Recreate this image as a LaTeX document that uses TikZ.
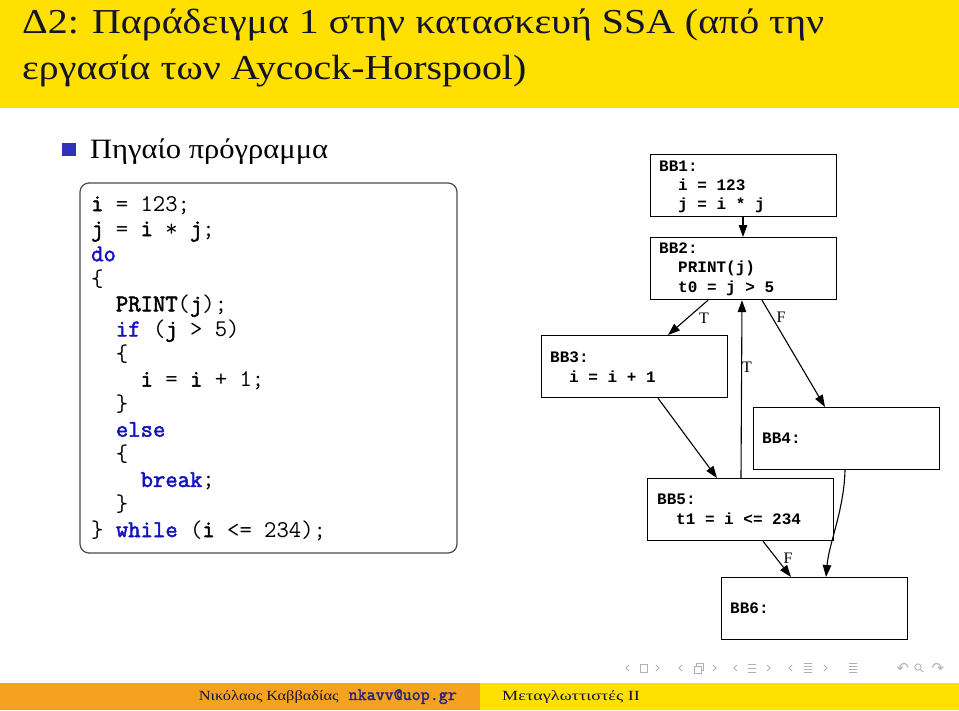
\documentclass[tikz,border=0pt]{standalone}
\usepackage{fontspec}
\usetikzlibrary{arrows.meta,calc}
\newfontfamily\gr{Liberation Serif}
\newfontfamily\grtitle{Liberation Serif}[FakeStretch=1.14]
\newfontfamily\gritem{Liberation Serif}[FakeStretch=1.09]
\newfontfamily\grcourse{Liberation Serif}[FakeStretch=1.3]
\newfontfamily\grauthor{Liberation Serif}[FakeStretch=1.17]
\newfontfamily\codefont{Latin Modern Mono}[BoldFont={Latin Modern Mono},BoldFeatures={FakeBold=2.2}]
\newfontfamily\cour{Liberation Mono}
\newfontfamily\dvs{DejaVu Sans}
\definecolor{titleyellow}{RGB}{255,224,0}
\definecolor{footorange}{RGB}{246,162,32}
\definecolor{kwblue}{RGB}{20,20,190}
\definecolor{bulletblue}{RGB}{50,50,185}
\definecolor{titleink}{RGB}{20,20,40}
\definecolor{navgray}{RGB}{175,175,190}
\definecolor{mailblue}{RGB}{40,40,120}
\definecolor{footink}{RGB}{20,20,60}
\newcommand{\kw}[1]{\textcolor{kwblue}{\bfseries #1}}
\newcommand{\idf}[1]{{\bfseries #1}}
\begin{document}
\begin{tikzpicture}[x=1pt,y=-1pt,
  codeline/.style={anchor=base west,inner sep=0pt,font=\codefont\fontsize{24}{25}\selectfont},
  bbbox/.style={draw,line width=1.2pt,minimum width=186pt,minimum height=62pt,inner sep=0pt,anchor=north west},
  bbtext/.style={anchor=west,inner sep=0pt,font=\cour\bfseries\fontsize{16}{18}\selectfont},
  edgelab/.style={inner sep=0pt,font=\gr\fontsize{16}{18}\selectfont},
  flow/.style={line width=1.1pt,-{Triangle[length=12pt,width=8.5pt]}},
  navsym/.style={navgray,line width=0.8pt}]
\useasboundingbox (0,0) rectangle (959,710);
% title bar
\fill[titleyellow] (0,0) rectangle (959,108);
\node[anchor=base west,inner sep=0pt,text=titleink,font=\grtitle\fontsize{35}{40}\selectfont] (title1) at (22,33) {Δ2: Παράδειγμα 1 στην κατασκευή SSA (από την};
\node[anchor=base west,inner sep=0pt,text=titleink,font=\grtitle\fontsize{35}{40}\selectfont] (title2) at (22,79) {εργασία των Aycock-Horspool)};
% bullet
\fill[bulletblue] (62,143) rectangle (76,156);
\node[anchor=base west,inner sep=0pt,font=\gritem\fontsize{28}{32}\selectfont] (item) at (90,158) {Πηγαίο πρόγραμμα};
% code box
\draw[rounded corners=9pt,line width=1.2pt,draw=black!70] (80,183) rectangle (457,553);
\node[codeline] (c1) at (91,211) {\idf{i}~=~123;};
\node[codeline] (c2) at (91,236.1) {\idf{j}~=~\idf{i}~*~\idf{j};};
\node[codeline] (c3) at (91,261.2) {\kw{do}};
\node[codeline] (c4) at (91,286.2) {\{};
\node[codeline] (c5) at (91,311.3) {~~\idf{PRINT}(\idf{j});};
\node[codeline] (c6) at (91,336.4) {~~\kw{if}~(\idf{j}~>~5)};
\node[codeline] (c7) at (91,361.5) {~~\{};
\node[codeline] (c8) at (91,386.6) {~~~~\idf{i}~=~\idf{i}~+~1;};
\node[codeline] (c9) at (91,411.6) {~~\}};
\node[codeline] (c10) at (91,436.7) {~~\kw{else}};
\node[codeline] (c11) at (91,461.8) {~~\{};
\node[codeline] (c12) at (91,486.9) {~~~~\kw{break};};
\node[codeline] (c13) at (91,511.9) {~~\}};
\node[codeline] (c14) at (91,537) {\}~\kw{while}~(\idf{i}~<=~234);};
% CFG boxes
\node[bbbox] (bb1) at (650,154) {};
\node[bbbox] (bb2) at (650,237) {};
\node[bbbox] (bb3) at (541,335) {};
\node[bbbox] (bb4) at (753,407) {};
\node[bbbox] (bb5) at (647,478) {};
\node[bbbox] (bb6) at (721,577) {};
\node[bbtext] (t11) at (659,166) {BB1:};
\node[bbtext] (t12) at (678,185) {i = 123};
\node[bbtext] (t13) at (678,205) {j = i * j};
\node[bbtext] (t21) at (659,248) {BB2:};
\node[bbtext] (t22) at (678,268) {PRINT(j)};
\node[bbtext] (t23) at (678,288) {t0 = j > 5};
\node[bbtext] (t31) at (550,357) {BB3:};
\node[bbtext] (t32) at (569,377) {i = i + 1};
\node[bbtext] (t41) at (762,438) {BB4:};
\node[bbtext] (t51) at (657,499) {BB5:};
\node[bbtext] (t52) at (676,519) {t1 = i <= 234};
\node[bbtext] (t61) at (730,608) {BB6:};
% edges
\draw[flow] ([xshift=93pt]bb1.south west) -- ([xshift=93pt]bb2.north west);
\draw[flow] ([xshift=58pt]bb2.south west) -- ([xshift=127pt]bb3.north west);
\draw[flow] ([xshift=94pt]bb5.north west) -- ([xshift=92pt]bb2.south west);
\draw[flow] ([xshift=112pt]bb2.south west) -- ([xshift=72pt]bb4.north west);
\draw[flow] ([xshift=117pt]bb3.south west) -- ([xshift=70pt]bb5.north west);
\draw[flow] ([xshift=116pt]bb5.south west) -- ([xshift=70pt]bb6.north west);
\draw[flow] ([xshift=92pt]bb4.south west) .. controls +(-1,40) and +(3,-34) .. ([xshift=105pt]bb6.north west);
\node[edgelab] (lT1) at (704,318) {T};
\node[edgelab] (lT2) at (747,367) {T};
\node[edgelab] (lF1) at (781,317) {F};
\node[edgelab] (lF2) at (788,558) {F};
% navigation symbols
\begin{scope}[navsym]
\draw (629,665) -- (626,668) -- (629,671);
\draw (640,664) rectangle (647,672);
\draw (656,665) -- (659,668) -- (656,671);
\draw (682,665) -- (679,668) -- (682,671);
\draw (694,666) rectangle (701,673);
\draw (696,666) -- (696,663) -- (703,663) -- (703,670) -- (701,670);
\draw (713,665) -- (716,668) -- (713,671);
\draw (737,665) -- (734,668) -- (737,671);
\draw (748,664) -- (756,664) (748,668) -- (756,668) (748,672) -- (756,672);
\draw (767,665) -- (770,668) -- (767,671);
\draw (792,665) -- (789,668) -- (792,671);
\draw (804,663) -- (812,663) (804,666) -- (812,666) (804,669) -- (812,669) (804,672) -- (812,672);
\draw (824,665) -- (827,668) -- (824,671);
\draw (849,663) -- (857,663) (849,666) -- (857,666) (849,669) -- (857,669) (849,672) -- (857,672);
\draw (918,667) circle[radius=3.2pt];
\draw (920.5,669.5) -- (923,672);
\end{scope}
\node[text=navgray,inner sep=0pt,font=\dvs\fontsize{15}{16}\selectfont] (undo) at (903,668) {↶};
\node[text=navgray,inner sep=0pt,font=\dvs\fontsize{15}{16}\selectfont] (redo) at (938,668) {↷};
% footer
\fill[footorange] (0,683) rectangle (480,710);
\fill[titleyellow] (480,683) rectangle (959,710);
\node[anchor=base east,inner sep=0pt,text=footink] (author) at (457,700) {\grauthor\fontsize{14}{17}\selectfont Νικόλαος Καββαδίας\hspace{10pt}\textcolor{mailblue}{\codefont\fontsize{17.5}{18}\selectfont\bfseries nkavv@uop.gr}};
\node[anchor=base west,inner sep=0pt,text=footink,font=\grcourse\fontsize{14}{17}\selectfont] (course) at (502,700) {Μεταγλωττιστές ΙΙ};
\end{tikzpicture}
\end{document}
